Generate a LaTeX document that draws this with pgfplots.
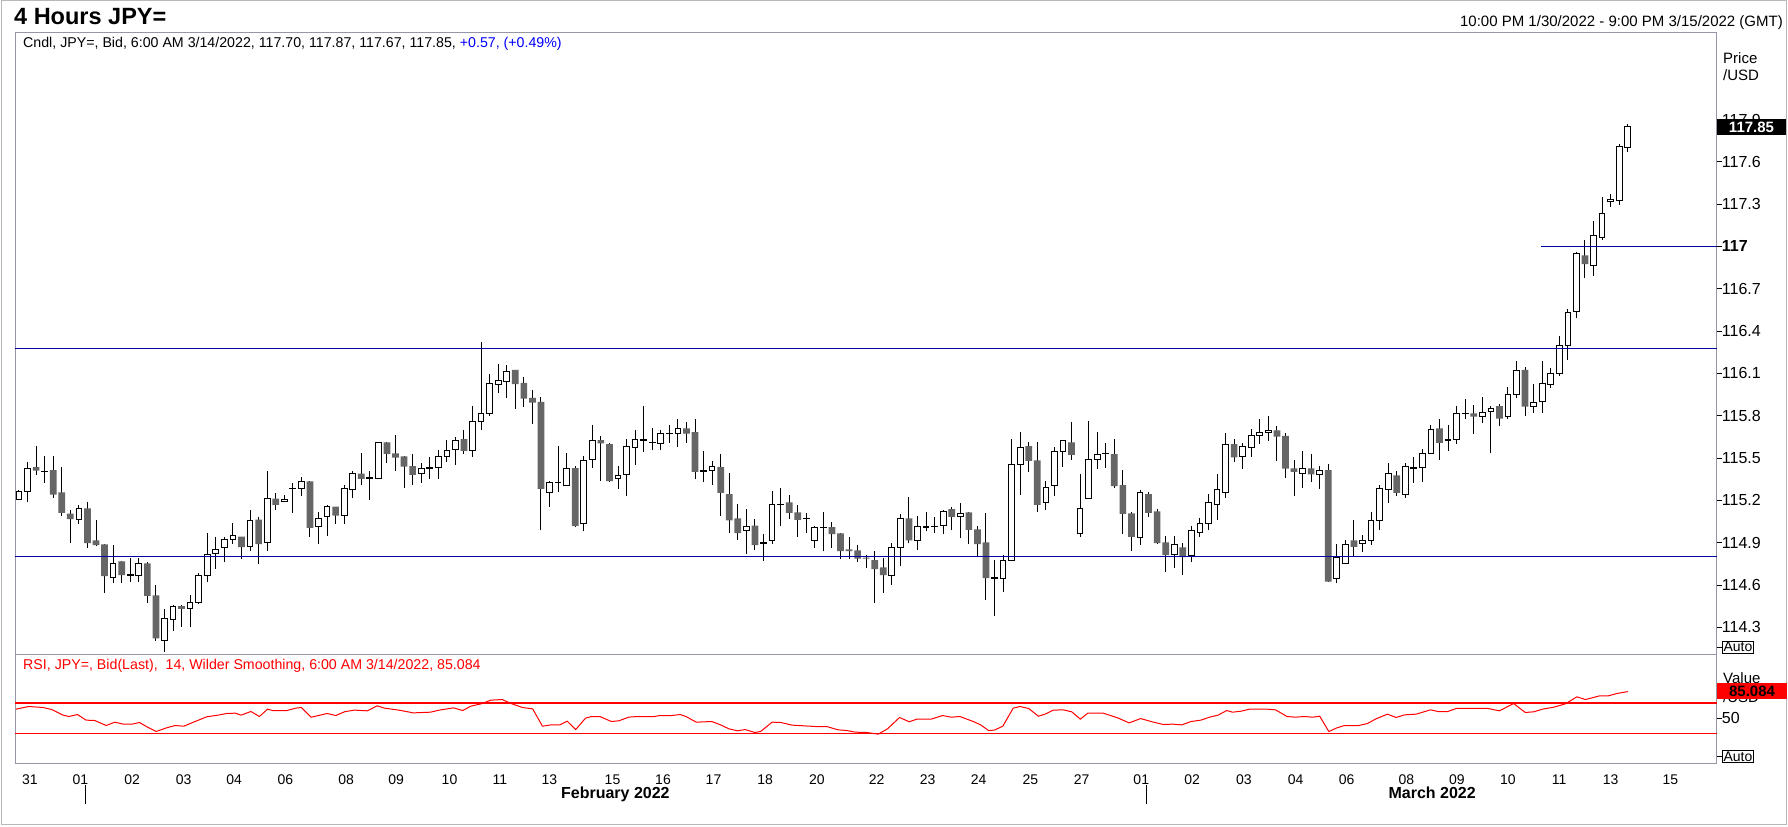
\documentclass[border=0pt]{standalone}
\usepackage{pgfplots}
\pgfplotsset{compat=1.18}
\usepackage{pgfplotstable}
\usepackage{fontspec}
\setmainfont{Liberation Sans}
\definecolor{navyline}{RGB}{0,0,160}
\definecolor{framec}{RGB}{150,150,168}
\definecolor{downgray}{RGB}{102,102,102}
\definecolor{rsired}{RGB}{255,0,0}
\definecolor{chgblue}{RGB}{0,0,255}
\newcommand{\fs}[1]{\fontsize{#1bp}{#1bp}\selectfont}

% up (and doji) candles: index, open, high, low, close
\pgfplotstableread{
i o h l c
1 115.205 115.276 115.205 115.262
2 115.262 115.473 115.188 115.425
4 115.402 115.513 115.324 115.406
8 115.063 115.169 115.032 115.141
12 114.653 114.885 114.612 114.750
14 114.668 114.790 114.619 114.672
15 114.667 114.790 114.624 114.750
18 114.209 114.427 114.126 114.359
19 114.352 114.454 114.273 114.449
21 114.432 114.525 114.299 114.472
22 114.472 114.683 114.463 114.667
23 114.667 114.966 114.619 114.819
24 114.821 114.942 114.714 114.849
25 114.866 114.942 114.762 114.920
26 114.920 115.037 114.892 114.949
28 114.871 115.134 114.842 115.056
30 114.899 115.411 114.842 115.212
32 115.191 115.241 115.188 115.205
33 115.281 115.324 115.110 115.285
34 115.286 115.364 115.233 115.331
36 115.013 115.115 114.890 115.070
37 115.084 115.165 114.949 115.155
39 115.091 115.307 115.034 115.283
40 115.276 115.407 115.217 115.390
42 115.355 115.407 115.205 115.359
43 115.355 115.611 115.355 115.611
48 115.390 115.462 115.324 115.426
49 115.428 115.506 115.352 115.432
50 115.433 115.556 115.352 115.511
51 115.511 115.627 115.473 115.554
52 115.561 115.649 115.452 115.625
54 115.554 115.869 115.509 115.762
55 115.760 116.324 115.701 115.817
56 115.817 116.099 115.801 116.030
57 116.023 116.170 115.959 116.052
58 116.045 116.158 115.928 116.116
63 115.255 115.338 115.153 115.326
64 115.324 115.585 115.260 115.328
65 115.307 115.535 115.302 115.426
67 115.035 115.511 114.980 115.483
68 115.490 115.734 115.431 115.627
71 115.355 115.443 115.281 115.376
72 115.381 115.634 115.232 115.578
73 115.575 115.698 115.450 115.632
74 115.625 115.869 115.544 115.629
75 115.609 115.713 115.556 115.613
76 115.601 115.698 115.556 115.675
77 115.673 115.734 115.608 115.677
78 115.675 115.777 115.580 115.710
81 115.407 115.549 115.331 115.411
82 115.409 115.476 115.310 115.440
86 114.985 115.137 114.819 115.013
88 114.895 114.964 114.769 114.899
89 114.914 115.264 114.892 115.170
90 115.168 115.286 115.018 115.172
93 115.068 115.110 114.968 115.072
94 114.914 115.016 114.862 115.006
95 115.004 115.115 114.840 115.008
103 114.670 114.897 114.598 114.866
104 114.864 115.103 114.733 115.070
106 114.918 115.091 114.847 115.013
107 115.007 115.115 114.980 115.011
108 115.013 115.084 114.968 115.017
109 115.018 115.134 114.961 115.120
111 115.082 115.184 114.933 115.106
115 114.649 114.774 114.380 114.653
116 114.643 114.814 114.549 114.771
117 114.771 115.634 114.767 115.454
118 115.454 115.684 115.239 115.575
121 115.186 115.336 115.132 115.291
122 115.305 115.575 115.229 115.547
123 115.547 115.623 115.438 115.623
125 114.964 115.386 114.940 115.141
126 115.213 115.763 115.213 115.490
127 115.490 115.684 115.423 115.525
128 115.530 115.608 115.430 115.534
132 114.935 115.274 114.883 115.255
136 114.814 114.944 114.719 114.885
138 114.812 115.016 114.762 114.985
139 114.970 115.075 114.940 115.035
140 115.035 115.246 114.990 115.184
141 115.170 115.386 115.061 115.276
142 115.255 115.677 115.217 115.597
144 115.511 115.608 115.423 115.582
145 115.575 115.706 115.509 115.661
146 115.661 115.777 115.601 115.682
147 115.682 115.798 115.623 115.696
151 115.390 115.549 115.288 115.424
153 115.383 115.442 115.279 115.412
155 114.643 114.888 114.617 114.795
156 114.750 114.916 114.750 114.888
158 114.892 114.952 114.833 114.914
159 114.914 115.115 114.883 115.056
160 115.056 115.312 114.990 115.284
161 115.276 115.463 115.184 115.390
163 115.241 115.463 115.217 115.440
164 115.429 115.504 115.326 115.433
165 115.431 115.563 115.331 115.532
166 115.532 115.734 115.525 115.703
168 115.625 115.734 115.551 115.629
169 115.632 115.869 115.601 115.815
170 115.813 115.917 115.774 115.817
172 115.796 115.933 115.751 115.822
173 115.831 115.869 115.532 115.850
175 115.796 116.004 115.779 115.952
176 115.952 116.189 115.924 116.123
178 115.867 116.026 115.822 115.895
179 115.902 116.189 115.822 116.030
180 116.023 116.139 115.999 116.101
181 116.101 116.367 116.082 116.301
182 116.301 116.557 116.192 116.535
183 116.542 116.962 116.490 116.948
185 116.862 117.178 116.789 117.076
186 117.062 117.348 117.045 117.232
187 117.318 117.375 117.280 117.334
188 117.325 117.725 117.294 117.709
189 117.70 117.87 117.67 117.85
}\upc

% down candles: index, open, high, low, close
\pgfplotstableread{
i o h l c
3 115.435 115.584 115.376 115.411
5 115.414 115.513 115.217 115.241
6 115.257 115.435 115.091 115.110
7 115.105 115.134 114.897 115.067
9 115.143 115.186 114.861 114.897
10 114.916 115.063 114.873 114.883
11 114.887 114.892 114.541 114.662
13 114.767 114.767 114.612 114.669
16 114.752 114.766 114.470 114.522
17 114.525 114.596 114.205 114.221
20 114.449 114.458 114.304 114.430
27 114.942 114.942 114.785 114.868
29 115.063 115.082 114.750 114.890
31 115.212 115.255 115.132 115.167
35 115.335 115.340 114.939 115.004
38 115.155 115.155 115.034 115.091
41 115.390 115.532 115.305 115.352
44 115.611 115.611 115.466 115.530
45 115.533 115.663 115.409 115.502
46 115.511 115.511 115.288 115.438
47 115.442 115.526 115.307 115.381
53 115.634 115.701 115.530 115.551
59 116.125 116.125 115.850 116.023
60 116.033 116.075 115.864 115.921
61 115.926 115.981 115.744 115.893
62 115.898 115.933 114.987 115.281
66 115.428 115.440 115.011 115.018
69 115.627 115.653 115.336 115.604
70 115.599 115.606 115.329 115.336
79 115.710 115.758 115.606 115.672
80 115.684 115.777 115.352 115.402
83 115.435 115.530 115.087 115.253
84 115.243 115.395 114.968 115.058
85 115.072 115.172 114.916 114.968
87 115.020 115.065 114.847 114.883
91 115.186 115.236 115.068 115.111
92 115.115 115.165 114.940 115.061
96 115.009 115.044 114.862 114.961
97 114.966 114.966 114.783 114.840
98 114.852 114.940 114.783 114.840
99 114.845 114.885 114.762 114.786
100 114.793 114.814 114.719 114.786
101 114.776 114.838 114.470 114.712
102 114.724 114.790 114.541 114.670
105 115.072 115.220 114.897 114.916
110 115.137 115.156 114.990 115.082
112 115.115 115.115 114.890 114.990
113 114.994 115.020 114.795 114.890
114 114.902 115.108 114.492 114.648
119 115.585 115.613 115.402 115.480
120 115.483 115.613 115.118 115.167
124 115.611 115.755 115.487 115.523
129 115.528 115.634 115.288 115.300
130 115.307 115.414 114.961 115.103
131 115.108 115.115 114.843 114.940
133 115.243 115.257 115.082 115.110
134 115.122 115.141 114.892 114.897
135 114.902 114.944 114.691 114.812
137 114.866 114.897 114.670 114.797
143 115.599 115.632 115.473 115.504
148 115.696 115.725 115.478 115.651
149 115.656 115.675 115.359 115.424
150 115.426 115.485 115.231 115.402
152 115.426 115.528 115.331 115.383
154 115.414 115.459 114.620 114.624
157 114.916 115.058 114.798 114.869
162 115.376 115.407 115.229 115.253
167 115.710 115.774 115.483 115.608
171 115.817 115.876 115.672 115.793
174 115.867 115.881 115.727 115.779
177 116.125 116.144 115.796 115.864
184 116.936 117.047 116.775 116.874
}\dnc

% RSI (14, Wilder)
\pgfplotstableread{
x r
0.65 61.9
2.13 65.4
3.81 64.1
4.82 61.4
6.16 54.0
6.83 52.2
7.84 54.8
8.84 47.4
9.85 46.9
11.19 40.3
12.2 44.7
13.2 42.1
14.21 42.1
15.08 44.3
16.09 37.7
17.03 32.4
18.23 37.2
19.24 40.3
20.25 39.4
21.59 45.6
22.93 51.8
24.27 54.0
25.28 56.2
26.28 56.6
26.95 54.0
28.1 58.8
29.1 52.2
30.04 61.9
30.64 60.1
32.32 60.1
33.33 63.2
34.0 64.1
35.14 51.3
36.01 53.5
37.02 56.2
38.02 53.5
39.03 58.4
40.17 60.6
41.71 59.7
42.85 66.3
43.73 63.2
45.4 60.6
47.08 57.0
49.09 57.9
50.1 60.6
51.78 63.6
52.85 60.1
53.79 65.8
55.0 68.9
56.14 73.8
57.48 74.6
58.48 69.4
59.83 64.1
61.03 62.3
62.17 39.4
63.18 41.2
64.19 41.2
65.06 46.0
66.06 35.0
67.2 50.0
67.88 52.2
68.88 52.2
70.22 45.6
71.1 46.5
72.24 51.3
73.24 52.2
75.25 52.2
75.92 53.5
77.27 53.5
78.27 54.8
78.94 52.2
80.15 44.7
81.96 45.6
82.97 41.2
83.97 35.9
84.98 33.3
85.85 35.0
86.99 31.1
87.66 32.4
89.01 44.7
90.01 44.3
91.35 40.8
92.7 39.9
94.04 39.0
95.38 39.0
96.72 34.6
97.73 33.7
98.73 31.5
100.08 31.1
101.42 28.9
102.5 36.0
103.9 50.9
105.04 45.2
105.91 48.7
107.59 48.7
108.93 53.5
109.93 51.3
110.94 52.2
112.62 45.2
113.42 40.8
114.3 33.7
114.97 34.2
115.97 39.4
117.18 63.2
117.98 65.4
118.99 62.8
120.13 52.6
121.0 55.7
121.87 60.6
123.02 61.0
124.02 58.4
125.03 48.7
125.9 56.6
127.71 56.6
129.39 50.4
130.73 43.8
132.07 49.5
133.41 45.2
134.75 41.6
135.76 42.1
136.9 41.2
137.97 45.6
139.12 47.4
140.12 51.3
141.13 54.0
142.13 60.1
142.81 57.9
143.81 59.2
144.82 61.9
146.83 61.9
147.84 61.0
149.18 52.2
150.18 51.3
151.19 52.2
152.2 51.3
153.0 52.6
154.07 32.4
155.01 37.2
155.89 40.3
157.56 40.3
158.57 42.9
159.57 49.1
160.92 55.3
161.92 50.9
162.93 54.4
164.27 55.3
165.95 61.0
166.82 58.8
167.96 58.8
168.97 62.8
172.66 62.8
174.0 59.7
175.67 69.4
177.02 57.5
178.02 58.4
179.03 61.9
180.37 64.5
181.71 68.9
183.05 78.2
184.06 74.6
185.73 79.5
186.74 79.5
187.75 82.6
189 85.084
}\rsi

\pgfplotsset{
  mainpos/.style={at={(15bp,172bp)}, anchor=south west, scale only axis,
    width=1701.7bp, height=622bp, xmin=0.533, xmax=199.4},
  rsipos/.style={at={(15bp,63bp)}, anchor=south west, scale only axis,
    width=1701.7bp, height=109bp, xmin=0.533, xmax=199.4},
}

\begin{document}
\begin{tikzpicture}[x=1bp,y=1bp]
\useasboundingbox (0,0) rectangle (1788,827);
\fill[white] (0,0) rectangle (1788,827);
\draw[black!28, line width=1bp] (1,2) rectangle (1786,826);

% wicks
\begin{axis}[mainpos, ymin=114.103, ymax=118.514, hide axis]
\addplot[draw=none, no markers, error bars/.cd, y dir=plus, y explicit,
  error mark=none, error bar style={draw=black, line width=1bp}]
  table[x=i, y=l, y error expr=\thisrow{h}-\thisrow{l}] {\upc};
\addplot[draw=none, no markers, error bars/.cd, y dir=plus, y explicit,
  error mark=none, error bar style={draw=black, line width=1bp}]
  table[x=i, y=l, y error expr=\thisrow{h}-\thisrow{l}] {\dnc};
\end{axis}

% up bodies (prices offset by 114)
\begin{axis}[mainpos, ymin=0.103, ymax=4.514, hide axis, ybar stacked, bar width=5.7bp]
\addplot[draw=none, fill=none] table[x=i, y expr=\thisrow{o}-114] {\upc};
\addplot[draw=black, fill=white, line width=1bp] table[x=i, y expr=\thisrow{c}-\thisrow{o}] {\upc};
\end{axis}

% down bodies
\begin{axis}[mainpos, ymin=0.103, ymax=4.514, hide axis, ybar stacked, bar width=6.7bp]
\addplot[draw=none, fill=none] table[x=i, y expr=\thisrow{c}-114] {\dnc};
\addplot[draw=none, fill=downgray] table[x=i, y expr=\thisrow{o}-\thisrow{c}] {\dnc};
\end{axis}

% frame, price axis, level lines
\begin{axis}[mainpos, ymin=114.103, ymax=118.514,
  axis line style={draw=framec, line width=1bp},
  xtick=\empty,
  ytick={114.3,114.6,114.9,115.2,115.5,115.8,116.1,116.4,116.7,117,117.3,117.6,117.9},
  yticklabels={114.3,114.6,114.9,115.2,115.5,115.8,116.1,116.4,116.7,\textbf{117},117.3,117.6,117.9},
  ytick pos=right, yticklabel pos=right, tick align=outside,
  major tick length=5bp, ytick style={draw=black, line width=0.8bp},
  yticklabel style={font=\fs{16}, anchor=west, inner sep=0pt, xshift=0bp}]
\addplot[navyline, line width=1.2bp] coordinates {(0.533,114.8) (199.4,114.8)};
\addplot[navyline, line width=1.2bp] coordinates {(0.533,116.275) (199.4,116.275)};
\addplot[navyline, line width=1.2bp] coordinates {(178.87,117) (199.4,117)};
\end{axis}

% RSI panel
\begin{axis}[rsipos, ymin=-10.5, ymax=133.4,
  axis line style={draw=framec, line width=1bp},
  ytick={50}, yticklabels={50},
  ytick pos=right, yticklabel pos=right, tick align=outside,
  major tick length=5bp, ytick style={draw=black, line width=0.8bp},
  yticklabel style={font=\fs{16}, anchor=west, inner sep=0pt},
  xtick={2.27,8.18,14.21,20.25,26.15,32.12,39.24,45.07,51.31,57.21,62.98,70.36,76.26,82.16,88.2,94.24,101.22,107.18,113.15,119.2,125.17,132.15,138.1,144.15,150.19,156.16,163.14,169.04,174.99,180.97,187.0,193.98},
  xticklabels={31,01,02,03,04,06,08,09,10,11,13,15,16,17,18,20,22,23,24,25,27,01,02,03,04,06,08,09,10,11,13,15},
  xtick pos=bottom, xtick style={draw=none},
  xticklabel style={font=\fs{14}, anchor=base, inner sep=0pt, yshift=-15.5bp}]
\addplot[rsired, line width=1.3bp] coordinates {(0.533,70) (199.4,70)};
\addplot[rsired, line width=1.3bp] coordinates {(0.533,30) (199.4,30)};
\addplot[rsired, line width=1bp] table[x=x, y=r] {\rsi};
\end{axis}

% month separators and names
\draw[black, line width=1bp] (85,42) -- (85,23);
\draw[black, line width=1bp] (1146.3,42) -- (1146.3,23);
\node[anchor=base, inner sep=0pt, font=\bfseries\fs{16}] at (615.4,28) {February 2022};
\node[anchor=base, inner sep=0pt, font=\bfseries\fs{16}] at (1432.2,28) {March 2022};

% headers
\node[anchor=base west, inner sep=0pt, font=\bfseries\fs{23.5}] at (14,802) {4 Hours JPY=};
\node[anchor=base east, inner sep=0pt, font=\fs{15}] at (1783,800.3) {10:00 PM 1/30/2022 - 9:00 PM 3/15/2022 (GMT)};
\node[anchor=base west, inner sep=0pt, font=\fs{14.2}] at (23,779) {Cndl, JPY=, Bid, 6:00 AM 3/14/2022, 117.70, 117.87, 117.67, 117.85, \textcolor{chgblue}{+0.57, (+0.49\%)}};
\node[anchor=base west, inner sep=0pt, font=\fs{14.2}, text=rsired] at (23,157) {RSI, JPY=, Bid(Last),\ \ 14, Wilder Smoothing, 6:00 AM 3/14/2022, 85.084};

% right-hand scale captions and value boxes
\node[anchor=base west, inner sep=0pt, font=\fs{15}] at (1723,763.7) {Price};
\node[anchor=base west, inner sep=0pt, font=\fs{15}] at (1723,746) {/USD};
\fill[black] (1717,692) rectangle (1786,708);
\node[anchor=center, inner sep=0pt, font=\bfseries\fs{15}, text=white] at (1751.5,700) {117.85};

\node[anchor=base west, inner sep=0pt, font=\fs{15}] at (1723,143.5) {Value};
\node[anchor=base west, inner sep=0pt, font=\fs{15}] at (1723,124) {/USD};
\fill[rsired] (1717,128) rectangle (1787,144);
\node[anchor=center, inner sep=0pt, font=\bfseries\fs{15}] at (1752,136) {85.084};

% Auto boxes
\draw[black, line width=0.8bp] (1717,180) -- (1722,180);
\node[draw=black, line width=0.8bp, anchor=west, inner sep=1.2bp, font=\fs{14}] at (1722,180) {Auto};
\draw[black, line width=0.8bp] (1717,70.5) -- (1722,70.5);
\node[draw=black, line width=0.8bp, anchor=west, inner sep=1.2bp, font=\fs{14}] at (1722,70.5) {Auto};
\end{tikzpicture}
\end{document}
